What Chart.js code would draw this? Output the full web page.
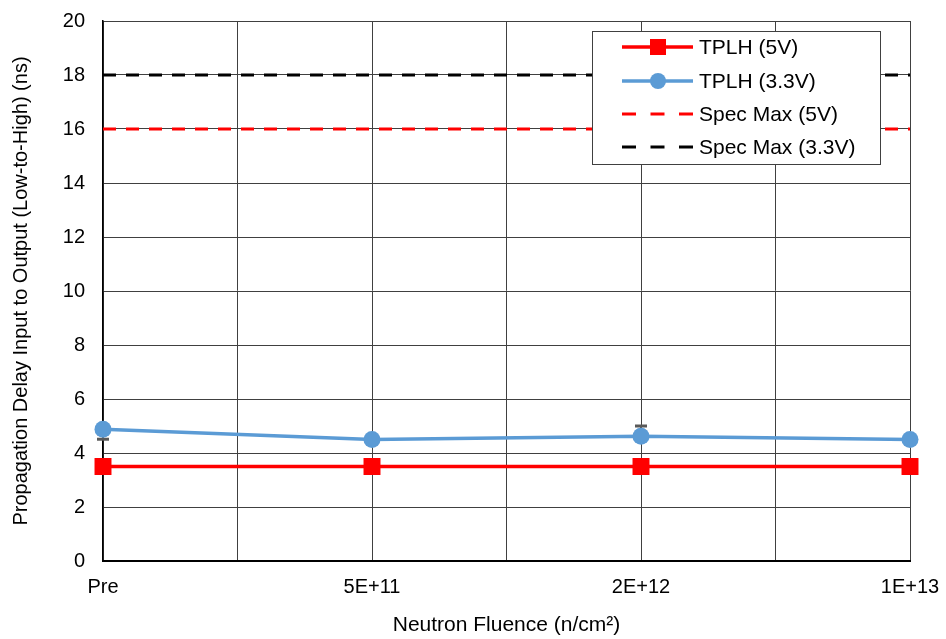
<!DOCTYPE html>
<html>
<head>
<meta charset="utf-8">
<script src="https://cdn.jsdelivr.net/npm/chart.js@4"></script>
<style>
  html, body { margin:0; padding:0; background:#fff; }
  #wrap { width:946px; height:639px; position:relative; }
</style>
</head>
<body>
<div id="wrap"><canvas id="chart"></canvas></div>
<script>
const categories = ['Pre', '5E+11', '2E+12', '1E+13'];
const tplh5 = [3.5, 3.5, 3.5, 3.5];
const tplh33 = [4.88, 4.5, 4.62, 4.5];
const tplh33ErrMinus = [0.37, 0, 0, 0];
const tplh33ErrPlus = [0, 0, 0.38, 0];
const specMax5 = 16;
const specMax33 = 18;
const yTicks = [0, 2, 4, 6, 8, 10, 12, 14, 16, 18, 20];

const FONT = 'Liberation Sans, Arial, sans-serif';

/* each category sits on every second gridline */
const pos = i => i * 2;
const lastPos = pos(categories.length - 1);

const toPoints = arr => arr.map((v, i) => ({x: pos(i), y: v}));
const flat = v => [{x: 0, y: v}, {x: lastPos, y: v}];

/* error bars under the blue markers */
const errorBars = {
  id: 'errorBars',
  beforeDatasetsDraw(chart){
    const {ctx, scales:{x, y}} = chart;
    ctx.save();
    ctx.strokeStyle = '#595959';
    tplh33.forEach((v, i)=>{
      const px = x.getPixelForValue(pos(i));
      const lo = v - tplh33ErrMinus[i], hi = v + tplh33ErrPlus[i];
      [lo, hi].forEach(e=>{
        if(e === v) return;
        const py = y.getPixelForValue(e);
        ctx.lineWidth = 2;
        ctx.beginPath();
        ctx.moveTo(px, y.getPixelForValue(v));
        ctx.lineTo(px, py);
        ctx.stroke();
        ctx.lineWidth = 3;
        ctx.beginPath();
        ctx.moveTo(px - 6, py);
        ctx.lineTo(px + 6, py);
        ctx.stroke();
      });
    });
    ctx.restore();
  }
};

/* boxed legend inside the plot */
const boxLegend = {
  id: 'boxLegend',
  afterDraw(chart){
    const ctx = chart.ctx;
    const bx = 592, by = 31, bw = 288, bh = 133;
    ctx.save();
    ctx.fillStyle = '#fff';
    ctx.fillRect(bx, by, bw, bh);
    ctx.strokeStyle = '#404040';
    ctx.lineWidth = 1;
    ctx.strokeRect(bx + 0.5, by + 0.5, bw, bh);
    const rows = [47, 81, 114, 147];
    chart.data.datasets.forEach((ds, i)=>{
      const yy = rows[i];
      ctx.strokeStyle = ds.borderColor;
      ctx.lineWidth = ds.borderWidth;
      ctx.setLineDash(ds.borderDash ? [14, 14.5] : []);
      ctx.beginPath();
      ctx.moveTo(622, yy);
      ctx.lineTo(693, yy);
      ctx.stroke();
      ctx.setLineDash([]);
      if(ds.pointRadius > 0){
        ctx.fillStyle = ds.pointBackgroundColor;
        if(ds.pointStyle === 'rect'){
          ctx.fillRect(650, yy - 8, 16, 16);
        } else {
          ctx.beginPath();
          ctx.arc(658, yy, 8, 0, Math.PI * 2);
          ctx.fill();
        }
      }
      ctx.fillStyle = '#000';
      ctx.font = '21px ' + FONT;
      ctx.textBaseline = 'middle';
      ctx.fillText(ds.label, 699, yy + 1);
    });
    ctx.restore();
  }
};

new Chart(document.getElementById('chart'), {
  type: 'line',
  data: {
    datasets: [
      {
        label: 'TPLH (5V)',
        data: toPoints(tplh5),
        borderColor: '#ff0000',
        backgroundColor: '#ff0000',
        pointBackgroundColor: '#ff0000',
        pointBorderWidth: 0,
        borderWidth: 3.5,
        pointStyle: 'rect',
        pointRadius: 12,
        clip: false,
        order: 1
      },
      {
        label: 'TPLH (3.3V)',
        data: toPoints(tplh33),
        borderColor: '#5b9bd5',
        backgroundColor: '#5b9bd5',
        pointBackgroundColor: '#5b9bd5',
        pointBorderWidth: 0,
        borderWidth: 3.5,
        pointStyle: 'circle',
        pointRadius: 8.5,
        clip: false,
        order: 0
      },
      {
        label: 'Spec Max (5V)',
        data: flat(specMax5),
        borderColor: '#ff0000',
        borderWidth: 3,
        borderDash: [13, 10],
        pointRadius: 0,
        order: 2
      },
      {
        label: 'Spec Max (3.3V)',
        data: flat(specMax33),
        borderColor: '#000000',
        borderWidth: 3,
        borderDash: [13, 10],
        pointRadius: 0,
        order: 2
      }
    ]
  },
  options: {
    responsive: true,
    maintainAspectRatio: false,
    animation: false,
    layout: { padding: { top: 21, right: 36, left: 0, bottom: 0 } },
    plugins: {
      legend: { display: false },
      tooltip: { enabled: false }
    },
    scales: {
      x: {
        type: 'linear',
        min: 0,
        max: lastPos,
        afterFit: s => { s.height = 78; s.paddingLeft = 0; s.paddingRight = 0; },
        afterBuildTicks: s => { s.ticks = Array.from({length: lastPos + 1}, (_, i) => ({value: i})); },
        ticks: {
          autoSkip: false,
          maxRotation: 0,
          padding: 14,
          color: '#000',
          font: { family: FONT, size: 20 },
          callback: v => v % 2 === 0 ? categories[v / 2] : ''
        },
        grid: { color: '#404040', lineWidth: 1, drawTicks: false },
        border: { color: '#000', width: 2 },
        title: {
          display: true,
          text: 'Neutron Fluence (n/cm²)',
          color: '#000',
          font: { family: FONT, size: 21 },
          padding: { top: 4, bottom: 1 }
        }
      },
      y: {
        min: 0,
        max: 20,
        afterFit: s => { s.width = 103; s.paddingTop = 0; s.paddingBottom = 0; },
        afterBuildTicks: s => { s.ticks = yTicks.map(v => ({value: v})); },
        ticks: {
          padding: 18,
          color: '#000',
          font: { family: FONT, size: 20 }
        },
        grid: { color: '#404040', lineWidth: 1, drawTicks: false },
        border: { color: '#000', width: 1.5 },
        title: {
          display: true,
          text: 'Propagation Delay Input to Output (Low-to-High) (ns)',
          color: '#000',
          font: { family: FONT, size: 20 },
          padding: { top: 9, bottom: 0 }
        }
      }
    }
  },
  plugins: [errorBars, boxLegend]
});
</script>
</body>
</html>
